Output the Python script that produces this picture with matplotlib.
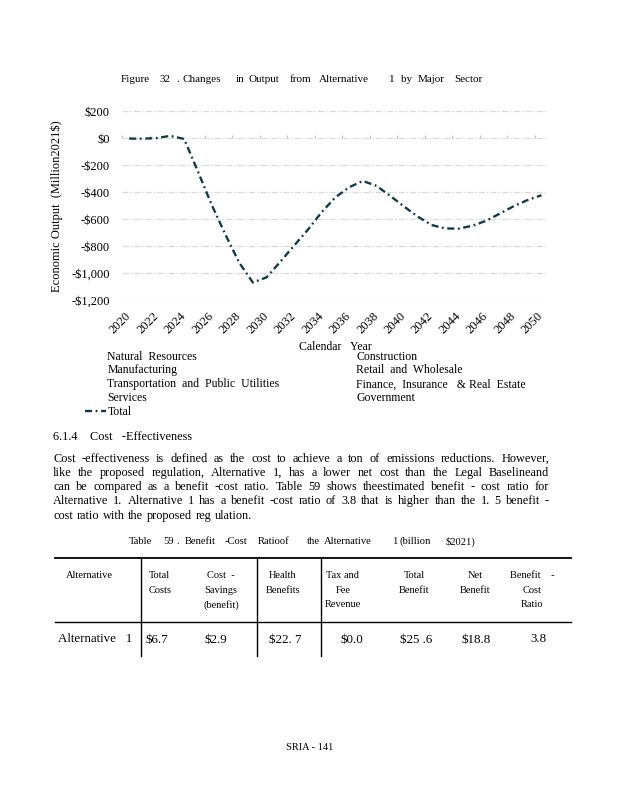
import matplotlib
matplotlib.use("Agg")
import matplotlib.pyplot as plt
from matplotlib.lines import Line2D
from matplotlib.ticker import FuncFormatter
import numpy as np

plt.rcParams["text.parse_math"] = False
plt.rcParams["font.family"] = ["Liberation Serif", "DejaVu Serif"]

# ---------------- data ----------------
years = list(range(2020, 2051))
total_output = [-2, -3, 2, 18, -5,
                -245, -492, -712, -920, -1068,
                -1030, -914, -795, -678, -548,
                -438, -363, -316, -352, -427,
                -505, -580, -642, -668, -669,
                -647, -610, -556, -502, -457,
                -422]
y_ticks = [200, 0, -200, -400, -600, -800, -1000, -1200]
sectors_col1 = ["Natural  Resources", "Manufacturing",
                "Transportation  and  Public  Utilities", "Services"]
sectors_col2 = ["Construction", "Retail  and  Wholesale",
                "Finance,  Insurance   & Real  Estate", "Government"]

title_words = ["Figure", "32", ".", "Changes", "in", "Output", "from",
               "Alternative", "1", "by", "Major", "Sector"]
caption_words = ["Table", "59", ".", "Benefit", "-Cost", "Ratioof", "the",
                 "Alternative", "1", "(billion", "$2021)"]

table_headers = [["Alternative"], ["Total", "Costs"], ["Cost  -", "Savings", "(benefit)"],
                 ["Health", "Benefits"], ["Tax and", "Fee", "Revenue"],
                 ["Total", "Benefit"], ["Net", "Benefit"], ["Benefit    -", "Cost", "Ratio"]]
table_row = ["Alternative   1", "$6.7", "$2.9", "$22. 7", "$0.0", "$25 .6", "$18.8", "3.8"]

body_lines = [
    "Cost -effectiveness   is defined  as the  cost  to achieve  a ton  of emissions   reductions.  However,",
    "like the proposed   regulation,   Alternative  1, has a lower  net  cost  than the  Legal  Baselineand",
    "can  be  compared   as a benefit  -cost ratio.  Table 59 shows   theestimated    benefit  - cost  ratio  for",
    "Alternative  1. Alternative  1 has a benefit -cost  ratio  of 3.8 that  is higher  than  the 1. 5 benefit  -",
    "cost  ratio  with  the  proposed   reg ulation.",
]

# ---------------- layout helpers ----------------
W, H = 618, 800
fig = plt.figure(figsize=(W / 100, H / 100), dpi=100)
renderer = fig.canvas.get_renderer()


def fx(px):
    return px / W


def fy(py):
    return 1 - py / H


line_color = "#123B4A"
grid_color = "#D9D9D9"
dash = (0, (3, 1.5, 0.8, 1.5))

# ---------------- chart ----------------
ax_l, ax_r, ax_t, ax_b = 122.3, 548.3, 111.3, 300.3
ax = fig.add_axes([fx(ax_l), fy(ax_b), fx(ax_r - ax_l), (ax_b - ax_t) / H])
x = np.arange(len(years))
ymin, ymax = -1200, 200
ax.set_xlim(-0.5, len(years) - 0.5)
ax.set_ylim(ymin, ymax)

ax.set_yticks(y_ticks)
ax.yaxis.grid(True, color=grid_color, linewidth=0.9, linestyle=(0, (5, 1.5, 1.2, 1.5)))
ax.set_axisbelow(True)
for s in ax.spines.values():
    s.set_visible(False)


def money(v, pos=None):
    v = int(round(v))
    return ("-$" if v < 0 else "$") + f"{abs(v):,}"


ax.yaxis.set_major_formatter(FuncFormatter(money))
ax.tick_params(axis="y", length=0, pad=9, labelsize=9)

ax.set_xticks(x[::2])
ax.set_xticklabels([str(y) for y in years[::2]], rotation=45, ha="right",
                   va="center", rotation_mode="anchor", fontsize=9)
ax.tick_params(axis="x", length=0, pad=10)

# category-boundary tick marks on the zero line
sec = ax.secondary_xaxis((0 - ymin) / (ymax - ymin))
sec.set_xticks(x[::2] - 0.5)
sec.tick_params(axis="x", length=2.5, width=0.8, color="#BFBFBF", labelbottom=False,
                labeltop=False, direction="out")
sec.spines["bottom"].set_visible(False)
sec.spines["top"].set_visible(False)

total_line, = ax.plot(x, total_output, color=line_color, linewidth=1.7,
                      linestyle=dash, label="Total", zorder=3)

ax.set_ylabel("Economic Output  (Million2021$)", fontsize=9)
ax.yaxis.set_label_coords((63 - ax_l) / (ax_r - ax_l), 0.5)
ax.set_xlabel("Calendar   Year", fontsize=8.5)
ax.xaxis.set_label_coords(0.5, -(347 - ax_b) / (ax_b - ax_t))
ax.xaxis.label.set_va("center")

# legend (sector series have no drawn handle)
handles, labels = [], []
for s in sectors_col1:
    handles.append(Line2D([], [], linestyle="none"))
    labels.append(s)
handles.append(Line2D([], [], color=line_color, linewidth=1.7, linestyle=dash))
labels.append("Total")
for s in sectors_col2:
    handles.append(Line2D([], [], linestyle="none"))
    labels.append(s)
fig.legend(handles, labels, ncol=2, loc="upper left",
           bbox_to_anchor=(fx(85), fy(350.5)), frameon=False, fontsize=8.5,
           handlelength=1.75, handletextpad=0.15, borderpad=0, borderaxespad=0,
           labelspacing=0.16, columnspacing=4.6)

# ---------------- page text ----------------
title_x = [135.2, 165.3, 177.7, 201.3, 240.3, 263.8, 300, 344.2, 391.7, 406.7, 431.3, 468]
for wx, w in zip(title_x, title_words):
    fig.text(fx(wx), fy(80), w, fontsize=8.0, va="center", ha="center")

fig.text(fx(53), fy(436.6), "6.1.4    Cost   -Effectiveness", fontsize=8.8, va="center")


def justified_line(py, txt, x0, x1, size, justify=True):
    words = txt.split()
    texts = [fig.text(0, fy(py), w, fontsize=size, va="center", ha="left") for w in words]
    widths = [t.get_window_extent(renderer).width for t in texts]
    if justify and len(words) > 1:
        gap = (x1 - x0 - sum(widths)) / (len(words) - 1)
    else:
        gap = size * 100 / 72 * 0.3
    pos = x0
    for t, w in zip(texts, widths):
        t.set_x(fx(pos))
        pos += w + gap


body_y = [458.5, 472.8, 487, 501.3, 515.6]
for i, (ly, txt) in enumerate(zip(body_y, body_lines)):
    justified_line(ly, txt, 53, 549, 8.8, justify=(i < len(body_lines) - 1))

caption_x = [140.7, 168.9, 178, 199.9, 236, 273.3, 313.5, 347.5, 394.5, 414.8, 460.7]
for wx, w in zip(caption_x, caption_words):
    fig.text(fx(wx), fy(541.5), w, fontsize=7.6, va="center", ha="center")

# ---------------- table ----------------
t_left, t_right = 55, 571
t_top, t_head = 558.3, 621.5
t_bottom = 656
fig.add_artist(Line2D([fx(t_left), fx(t_right)], [fy(t_top), fy(t_top)], color="black", lw=1.3))
fig.add_artist(Line2D([fx(t_left), fx(t_right)], [fy(t_head), fy(t_head)], color="black", lw=1.0))
for vx in [140.5, 256.6, 321]:
    fig.add_artist(Line2D([fx(vx), fx(vx)], [fy(t_top), fy(t_bottom)], color="black", lw=1.0))

head_x = [65.9, 159.7, 221, 283, 342.8, 414, 475.2, 532]
head_y0, head_dy = 576, 14.3
for i, (hx, lines) in enumerate(zip(head_x, table_headers)):
    for j, ln in enumerate(lines):
        fig.text(fx(hx), fy(head_y0 + j * head_dy), ln, fontsize=7.5,
                 va="center", ha="left" if i == 0 else "center")

row_x = [95.5, 156.5, 216, 285.5, 352, 416.5, 476.2, 538.7]
for rx, val in zip(row_x, table_row):
    fig.text(fx(rx), fy(639.5), val, fontsize=9.4, va="center", ha="center")

fig.text(fx(310), fy(747), "SRIA - 141", fontsize=7.5, va="center", ha="center")

fig.savefig("out.png", dpi=100)
